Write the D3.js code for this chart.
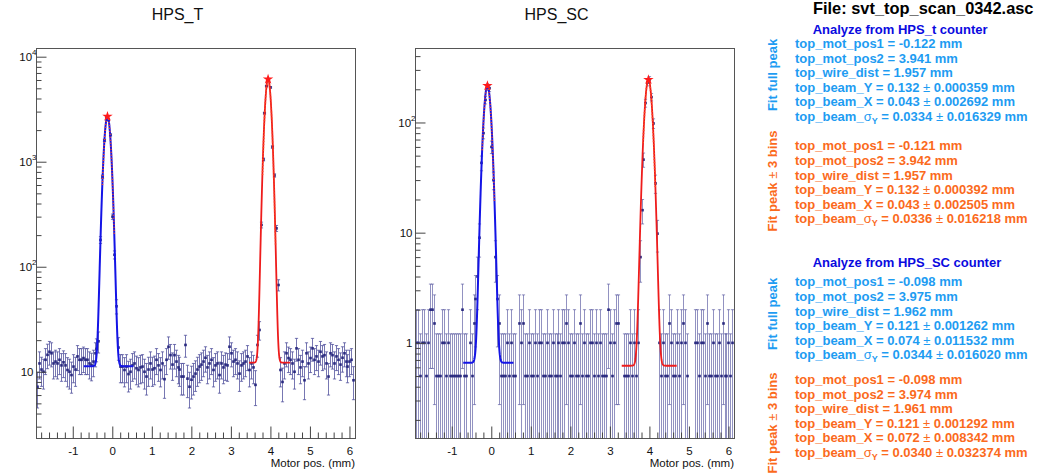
<!DOCTYPE html>
<html lang="en">
<head>
<meta charset="UTF-8">
<title>svt_top_scan_0342</title>
<script src="https://d3js.org/d3.v7.min.js"></script>
<style>
body {margin: 0; background: white;}
svg {display: block; background: white;}
text {font-family: "Liberation Sans", Arial, Helvetica, sans-serif;}
.info {font-weight: bold; font-size: 13px;}
</style>
</head>
<body>
<svg width="1048" height="474"></svg>
<script>
// scan binning (mm): first bin centre and bin width
const binStart = -1.9;
const binWidth = 0.05;

// HPS_T counter, one value per bin
const hpsT = [
  7.2, 12, 10.5, 10, 13, 14.5, 15.5, 15, 12, 12.5,
  12, 13, 11.5, 12.3, 11.5, 10.4, 10, 9.3, 11.2, 10.5,
  14, 13, 13, 13.5, 13, 13, 12, 11.6, 12.5, 15,
  16.5, 19.5, 180, 720, 1600, 2700, 2500, 1800, 300, 130,
  42, 17, 11.2, 11.2, 10.4, 11.2, 9.5, 10, 11.5, 12,
  10.8, 10.4, 11, 11.2, 10, 9, 10.5, 12, 10.5, 10.8,
  13, 11.5, 10.4, 12, 8.5, 13, 17.3, 14.4, 11.7, 14.4,
  12.5, 11, 10.5, 9, 9, 18, 8.6, 7.2, 8.4, 9,
  9.6, 10.5, 11.2, 11.7, 12.5, 13.6, 11, 12, 13, 10.4,
  11.5, 12, 9.3, 12, 11, 11.7, 11.5, 17.3, 15, 12.5,
  13, 12, 9.6, 11.5, 12, 12.5, 14, 10.4, 12, 11,
  7.5, 18, 25, 250, 1050, 2900, 5250, 6100, 5100, 1380,
  740, 232, 67, 10.4, 8, 12, 15, 13.5, 13, 12,
  10, 16.7, 13, 11, 12.5, 8.3, 15, 12, 13.5, 16.7,
  13, 14, 12.5, 15.5, 14, 14.4, 12, 9, 15, 14.4,
  12, 14, 13, 11.7, 13.6, 15, 12.5, 11.2, 12.5, 13,
  8.3
];

// HPS_SC counter, one value per bin
const hpsSC = [
  1, 1, 0.5, 1, 1, 0.5, 1, 2, 2, 1.5,
  0.5, 0.5, 0.5, 1, 1, 0.5, 1, 0.5, 0.5, 0.5,
  0.5, 0.5, 0.5, 2, 0.5, 0.5, 0, 1, 0.5, 1.5,
  2.5, 4, 9, 43, 80, 160, 210, 205, 60, 30,
  6, 2.5, 1.5, 0.5, 0.5, 0.5, 1, 0.5, 1, 0.5,
  0.5, 0, 1.5, 1, 1.5, 0.5, 0.5, 1, 0.5, 0.5,
  1, 0.5, 1, 1, 0.5, 0.5, 1, 0.5, 0.5, 1,
  0.5, 0.5, 1, 0.5, 1, 1, 1.5, 1, 0.5, 0.5,
  1, 0.5, 0.5, 1.5, 0.5, 1, 0.5, 0.5, 1, 1,
  0.5, 1, 0.5, 1, 0.5, 0.5, 0.5, 2, 1, 0.5,
  1, 1.5, 1.5, 0, 0, 0.5, 0.5, 0.5, 1, 0.5,
  1, 0.5, 1, 6, 16, 46, 150, 230, 245, 170,
  98, 28, 9.8, 1, 0.5, 1, 0.5, 0.5, 1.5, 1,
  0.5, 0.5, 1, 0.5, 1, 1.5, 1, 0.5, 0, 0,
  0, 1, 1, 0.5, 1, 1, 0.5, 1.5, 0.5, 0.5,
  1, 0.5, 0.5, 1, 0.5, 1.5, 0.5, 0.5, 1, 0.5,
  1
];

const xTickValues = [-1, 0, 1, 2, 3, 4, 5, 6];

// gaussian + constant fits: [const, amplitude, mean, sigma, from, to]
const tFitFull1 = [11.3, 2690, -0.122, 0.075, -0.72, 0.53];
const tFitFull2 = [12.2, 6090, 3.941, 0.070, 3.46, 4.50];
const tFit3Bins1 = [11.3, 2700, -0.121, 0.074, -0.25, 0.05];
const tFit3Bins2 = [12.2, 6100, 3.942, 0.069, 3.80, 4.13];
const scFitFull1 = [0.66, 215, -0.098, 0.081, -0.71, 0.56];
const scFitFull2 = [0.62, 244, 3.975, 0.083, 3.30, 4.69];
const scFit3Bins1 = [0.66, 216, -0.098, 0.080, -0.23, 0.08];
const scFit3Bins2 = [0.62, 245, 3.974, 0.082, 3.84, 4.15];

// fit summary values: pos1, pos2, wire dist, Y, dY, X, dX, sigY, dsigY
const tFullPeak = ['-0.122', '3.941', '1.957', '0.132', '0.000359', '0.043', '0.002692', '0.0334', '0.016329'];
const t3Bins = ['-0.121', '3.942', '1.957', '0.132', '0.000392', '0.043', '0.002505', '0.0336', '0.016218'];
const scFullPeak = ['-0.098', '3.975', '1.962', '0.121', '0.001262', '0.074', '0.011532', '0.0344', '0.016020'];
const sc3Bins = ['-0.098', '3.974', '1.961', '0.121', '0.001292', '0.072', '0.008342', '0.0340', '0.032374'];

const svg = d3.select('svg');
const xDomain = [-1.93, 6.14];
const cyan = '#1e9cf2';
const orange = '#fb6a1c';

const panels = [
  {id: 't', title: 'HPS_T', counts: hpsT, left: 36, right: 355, top: 48, bottom: 438,
   yDomain: [2.34, 12100], majors: [10, 100, 1000, 10000], barOpacity: 0.75,
   fits: [tFitFull1, tFitFull2], dotted: [tFit3Bins1, tFit3Bins2]},
  {id: 'sc', title: 'HPS_SC', counts: hpsSC, left: 415, right: 734, top: 48, bottom: 438,
   yDomain: [0.137, 474], majors: [1, 10, 100], barOpacity: 0.6,
   fits: [scFitFull1, scFitFull2], dotted: [scFit3Bins1, scFit3Bins2]}
];

function gaus(f, xv) {
  return f[0] + f[1] * Math.exp(-((xv - f[2]) ** 2) / (2 * f[3] * f[3]));
}

function logMinor(dom) {
  const out = [];
  for (let e = -2; e <= 5; e++) {
    for (let k = 2; k <= 9; k++) {
      const v = k * Math.pow(10, e);
      if (v >= dom[0] && v <= dom[1]) out.push(v);
    }
  }
  return out;
}

function drawPanel(p) {
  const x = d3.scaleLinear().domain(xDomain).range([p.left, p.right]);
  const y = d3.scaleLog().domain(p.yDomain).range([p.bottom, p.top]);
  const g = svg.append('g');

  svg.append('clipPath').attr('id', 'clip-' + p.id)
    .append('rect')
    .attr('x', p.left).attr('y', p.top)
    .attr('width', p.right - p.left).attr('height', p.bottom - p.top);

  const plot = g.append('g').attr('clip-path', 'url(#clip-' + p.id + ')');

  const bins = p.counts.map((v, i) => ({x: binStart + i * binWidth, v: v}))
    .filter(d => d.v > 0);

  // error bars
  const bars = plot.append('g')
    .attr('stroke', '#4a4a98').attr('stroke-opacity', p.barOpacity).attr('stroke-width', 1);
  bins.forEach(d => {
    const err = Math.sqrt(d.v);
    const lo = d.v - err, hi = d.v + err;
    const cx = Math.round(x(d.x)) + 0.5;
    const yHi = y(hi);
    const yLo = lo > p.yDomain[0] ? y(lo) : p.bottom + 2;
    bars.append('line').attr('x1', cx).attr('x2', cx).attr('y1', yHi).attr('y2', yLo);
    bars.append('line').attr('x1', cx - 1.6).attr('x2', cx + 1.6).attr('y1', yHi).attr('y2', yHi);
    if (lo > p.yDomain[0]) {
      bars.append('line').attr('x1', cx - 1.6).attr('x2', cx + 1.6).attr('y1', yLo).attr('y2', yLo);
    }
  });

  // markers
  plot.append('g').selectAll('rect')
    .data(bins.filter(d => d.v >= p.yDomain[0]))
    .join('rect')
    .attr('x', d => Math.round(x(d.x)) - 0.8)
    .attr('y', d => y(d.v) - 1.3)
    .attr('width', 2.6).attr('height', 2.6)
    .attr('fill', '#29297f');

  // fit curves
  const line = d3.line().x(d => x(d[0])).y(d => y(d[1]));
  const sample = f => d3.range(0, 241).map(i => {
    const xv = f[4] + (f[5] - f[4]) * i / 240;
    return [xv, gaus(f, xv)];
  });
  plot.append('path').datum(sample(p.fits[0]))
    .attr('d', line).attr('fill', 'none').attr('stroke', '#1414e6').attr('stroke-width', 2);
  plot.append('path').datum(sample(p.fits[1]))
    .attr('d', line).attr('fill', 'none').attr('stroke', '#ee1c1c').attr('stroke-width', 1.8);
  p.dotted.forEach(f => {
    plot.append('path').datum(sample(f))
      .attr('d', line).attr('fill', 'none').attr('stroke', '#ff4a20')
      .attr('stroke-width', 1.6).attr('stroke-dasharray', '1,2');
  });

  // peak markers
  plot.append('g').selectAll('path')
    .data(p.fits)
    .join('path')
    .attr('transform', f => 'translate(' + x(f[2]) + ',' + y(f[0] + f[1]) + ')')
    .attr('d', d3.symbol(d3.symbolStar, 34))
    .attr('fill', '#ff1a1a');

  // frame
  g.append('rect')
    .attr('x', p.left + 0.5).attr('y', p.top + 0.5)
    .attr('width', p.right - p.left).attr('height', p.bottom - p.top)
    .attr('fill', 'none').attr('stroke', '#555').attr('stroke-width', 1);

  // x axis (ticks inside)
  const xAxis = g.append('g').attr('transform', 'translate(0,' + (p.bottom + 0.5) + ')')
    .call(d3.axisBottom(x).tickValues(xTickValues).tickSizeInner(-12).tickSizeOuter(0)
      .tickPadding(8).tickFormat(d => String(d)));
  const xMinor = d3.range(-18, 61, 2).map(v => v / 10).filter(v => Math.abs(v - Math.round(v)) > 1e-6);
  g.append('g').attr('transform', 'translate(0,' + (p.bottom + 0.5) + ')')
    .call(d3.axisBottom(x).tickValues(xMinor).tickSizeInner(-6).tickSizeOuter(0).tickFormat(''));

  // y axis (log, ticks inside)
  const yAxis = g.append('g').attr('transform', 'translate(' + (p.left + 0.5) + ',0)')
    .call(d3.axisLeft(y).tickValues(p.majors).tickSizeInner(-10).tickSizeOuter(0)
      .tickPadding(3).tickFormat(''));
  g.append('g').attr('transform', 'translate(' + (p.left + 0.5) + ',0)')
    .call(d3.axisLeft(y).tickValues(logMinor(p.yDomain)).tickSizeInner(-5).tickSizeOuter(0)
      .tickFormat(''));

  g.selectAll('.domain').remove();
  g.selectAll('.tick line').attr('stroke', '#444');
  xAxis.selectAll('.tick text')
    .attr('font-size', 11.5).attr('font-family', '"Liberation Sans", Arial, sans-serif').attr('fill', '#111');

  yAxis.selectAll('.tick text').each(function(d) {
    const t = d3.select(this)
      .attr('font-size', 11.5).attr('font-family', '"Liberation Sans", Arial, sans-serif')
      .attr('fill', '#111');
    const e = Math.round(Math.log10(d));
    if (e <= 1) {
      t.attr('x', -3).text(String(d));
    } else {
      t.attr('x', 0);
      t.append('tspan').text('10');
      t.append('tspan').attr('font-size', 8).attr('dy', '-0.75em').text(String(e));
    }
  });

  // titles
  svg.append('text')
    .attr('x', (p.left + p.right) / 2 - 18).attr('y', 20)
    .attr('text-anchor', 'middle').attr('font-size', 16).attr('fill', '#111')
    .text(p.title);
  svg.append('text')
    .attr('x', p.right).attr('y', 467)
    .attr('text-anchor', 'end').attr('font-size', 11.5).attr('fill', '#111')
    .text('Motor pos. (mm)');
}

panels.forEach(drawPanel);

// fit summary on the right
function pm(t, a, b) {
  t.append('tspan').text(a + ' ');
  t.append('tspan').attr('font-weight', 'normal').text('\u00b1');
  t.append('tspan').text(' ' + b + ' mm');
}

function writeBlock(y0, color, v) {
  const x0 = 795, step = 14.6;
  const lines = [
    t => t.text('top_mot_pos1 = ' + v[0] + ' mm'),
    t => t.text('top_mot_pos2 = ' + v[1] + ' mm'),
    t => t.text('top_wire_dist = ' + v[2] + ' mm'),
    t => { t.append('tspan').text('top_beam_Y = '); pm(t, v[3], v[4]); },
    t => { t.append('tspan').text('top_beam_X = '); pm(t, v[5], v[6]); },
    t => {
      t.append('tspan').text('top_beam_');
      t.append('tspan').attr('font-weight', 'normal').text('\u03c3');
      t.append('tspan').attr('font-size', 9).attr('dy', 3).text('Y');
      t.append('tspan').attr('dy', -3).text(' = ');
      pm(t, v[7], v[8]);
    }
  ];
  lines.forEach((fn, i) => {
    const t = svg.append('text').attr('class', 'info')
      .attr('x', x0).attr('y', y0 + i * step).attr('fill', color);
    fn(t);
  });
}

function sideLabel(yc, color, kind) {
  const t = svg.append('text').attr('class', 'info')
    .attr('transform', 'translate(776.5,' + yc + ') rotate(-90)')
    .attr('text-anchor', 'middle').attr('fill', color);
  if (kind === 'full') {
    t.text('Fit full peak');
  } else {
    t.append('tspan').text('Fit peak ');
    t.append('tspan').attr('font-weight', 'normal').text('\u00b1');
    t.append('tspan').text(' 3 bins');
  }
}

svg.append('text')
  .attr('x', 813).attr('y', 13.5).attr('font-size', 16.4).attr('font-weight', 'bold').attr('fill', '#000')
  .text('File: svt_top_scan_0342.asc');

svg.append('text').attr('class', 'info').attr('x', 812.7).attr('y', 34).attr('fill', '#0a0ae0')
  .text('Analyze from HPS_t counter');
writeBlock(48, cyan, tFullPeak);
writeBlock(150.3, orange, t3Bins);
sideLabel(75, cyan, 'full');
sideLabel(181, orange, 'bins');

svg.append('text').attr('class', 'info').attr('x', 812.7).attr('y', 267.3).attr('fill', '#0a0ae0')
  .text('Analyze from HPS_SC counter');
writeBlock(286.3, cyan, scFullPeak);
writeBlock(383.9, orange, sc3Bins);
sideLabel(314, cyan, 'full');
sideLabel(423, orange, 'bins');
</script>
</body>
</html>
